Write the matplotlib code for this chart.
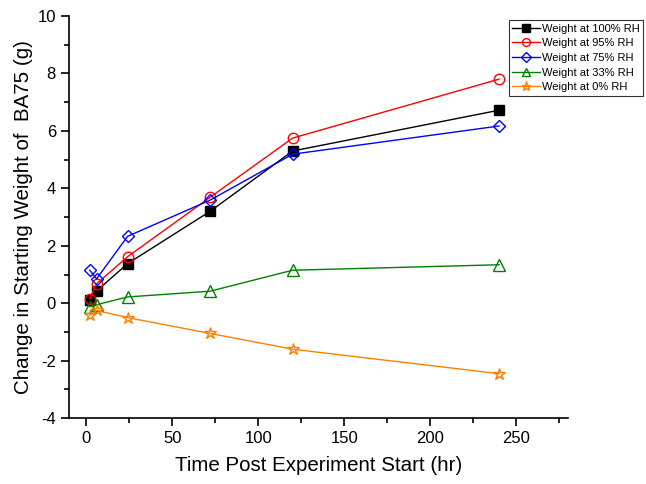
import matplotlib
matplotlib.use("Agg")
import matplotlib.pyplot as plt
from matplotlib.ticker import MultipleLocator

plt.rcParams['font.family'] = ['Liberation Sans', 'DejaVu Sans']
plt.rcParams['axes.unicode_minus'] = False

time_hr = [2, 6, 24, 72, 120, 240]
rh100 = [0.12, 0.43, 1.38, 3.2, 5.3, 6.72]
rh95 = [0.15, 0.68, 1.62, 3.69, 5.75, 7.8]
rh75 = [1.15, 0.85, 2.33, 3.59, 5.19, 6.17]
rh33 = [-0.12, -0.05, 0.22, 0.42, 1.15, 1.34]
rh0 = [-0.42, -0.25, -0.5, -1.05, -1.6, -2.45]

labels = ["Weight at 100% RH", "Weight at 95% RH", "Weight at 75% RH",
          "Weight at 33% RH", "Weight at 0% RH"]
series = [rh100, rh95, rh75, rh33, rh0]
colors = ["#000000", "#FF0000", "#0000FF", "#008000", "#FF8000"]
markers = ["s", "o", "D", "^", "*"]
sizes = [7, 7.5, 6.5, 8, 9]

fig = plt.figure(figsize=(6.46, 4.84), dpi=100)
ax = fig.add_axes([0.107, 0.136, 0.772, 0.831])

handles = []
for i, (y, lab, c, m, s) in enumerate(zip(series, labels, colors, markers, sizes)):
    face = c if i == 0 else "none"
    h, = ax.plot(time_hr, y, color=c, marker=m, markersize=s,
                 markerfacecolor=face, markeredgecolor=c, linewidth=1,
                 markeredgewidth=1, label=lab)
    handles.append(h)

ax.set_xlim(-10, 280)
ax.set_ylim(-4, 10)
ax.xaxis.set_major_locator(MultipleLocator(50))
ax.xaxis.set_minor_locator(MultipleLocator(25))
ax.yaxis.set_major_locator(MultipleLocator(2))
ax.yaxis.set_minor_locator(MultipleLocator(1))
for sp in ["top", "right"]:
    ax.spines[sp].set_visible(False)
for sp in ["left", "bottom"]:
    ax.spines[sp].set_linewidth(1.2)
ax.tick_params(which="major", direction="out", length=6, width=1.2, labelsize=12)
ax.tick_params(which="minor", direction="out", length=3.5, width=1.2)

ax.set_xlabel("Time Post Experiment Start (hr)", fontsize=14.8, labelpad=7)
ax.set_ylabel("Change in Starting Weight of  BA75 (g)", fontsize=14.8, labelpad=3)

leg = fig.legend(handles=handles, loc="upper left", bbox_to_anchor=(0.788, 0.958),
                 fontsize=8.0, frameon=True, fancybox=False, edgecolor="black",
                 handlelength=2.5, handletextpad=0.2, borderpad=0.3,
                 labelspacing=0.42, borderaxespad=0, markerscale=0.75)
leg.get_frame().set_linewidth(0.8)

fig.savefig("out.png", dpi=100)
